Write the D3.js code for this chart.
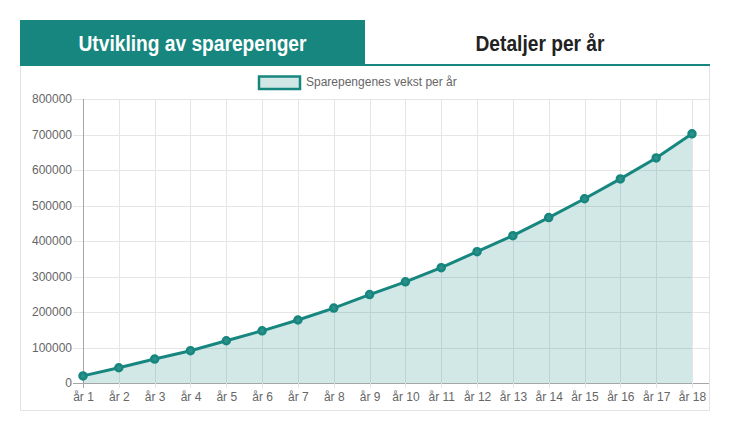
<!DOCTYPE html>
<html>
<head>
<meta charset="utf-8">
<script src="https://d3js.org/d3.v7.min.js"></script>
<style>
  body { margin: 0; background: #fff; }
  svg text { font-family: "Liberation Sans", Arial, sans-serif; }
</style>
</head>
<body>
<svg id="chart" width="729" height="426"></svg>
<script>
// data
var years = ["år 1","år 2","år 3","år 4","år 5","år 6","år 7","år 8","år 9","år 10",
             "år 11","år 12","år 13","år 14","år 15","år 16","år 17","år 18"];
var savings = [20000, 43000, 67500, 91000, 119000, 147000, 177500, 211000, 249000, 285000,
               325000, 370000, 415000, 466000, 519000, 575000, 634000, 702000];
var yTicks = [0, 100000, 200000, 300000, 400000, 500000, 600000, 700000, 800000];
var tabs = ["Utvikling av sparepenger", "Detaljer per år"];
var legendLabel = "Sparepengenes vekst per år";

var teal = "#17867f",
    fillCol = "rgba(23,138,135,0.2)",
    grid = "#e5e5e5",
    zero = "#a6a6a6";

var svg = d3.select("#chart");

// tabs
svg.append("rect").attr("x", 20).attr("y", 20).attr("width", 345).attr("height", 46).attr("fill", teal);
svg.append("rect").attr("x", 365).attr("y", 64).attr("width", 345).attr("height", 2).attr("fill", teal);
// condensed look: squeeze the bold text to the width seen in the picture
svg.append("text").attr("x", 192.5).attr("y", 51).attr("text-anchor", "middle")
  .attr("textLength", 228).attr("lengthAdjust", "spacingAndGlyphs")
  .style("font-weight", "bold").style("font-size", "22px").attr("fill", "#fff").text(tabs[0]);
svg.append("text").attr("x", 540).attr("y", 51).attr("text-anchor", "middle")
  .attr("textLength", 129).attr("lengthAdjust", "spacingAndGlyphs")
  .style("font-weight", "bold").style("font-size", "22px").attr("fill", "#222").text(tabs[1]);

// panel border
svg.append("path").attr("d", "M20.5,66V410.5H709.5V66").attr("fill", "none").attr("stroke", "#e3e3e3");

// legend
svg.append("rect").attr("x", 259).attr("y", 76.5).attr("width", 41).attr("height", 12.5)
  .attr("fill", "#d0e7e6").attr("stroke", teal).attr("stroke-width", 2.5);
svg.append("text").attr("x", 306).attr("y", 86).attr("fill", "#666").style("font-size", "12px").text(legendLabel);

// scales
var x = d3.scalePoint().domain(years).range([83, 692]);
var y = d3.scaleLinear().domain([0, 800000]).range([383, 99]);

// grid
var g = svg.append("g");
g.selectAll(".hg").data(yTicks).join("line")
  .attr("x1", 73).attr("x2", 709)
  .attr("y1", d => Math.round(y(d)) + 0.5).attr("y2", d => Math.round(y(d)) + 0.5)
  .attr("stroke", d => d === 0 ? zero : grid);
g.selectAll(".vg").data(years).join("line")
  .attr("x1", d => Math.round(x(d)) + 0.5).attr("x2", d => Math.round(x(d)) + 0.5)
  .attr("y1", 99).attr("y2", 388)
  .attr("stroke", (d, i) => i === 0 ? zero : grid);

// axes labels via d3 axes
var yAxis = svg.append("g").attr("transform", "translate(73,0)")
  .call(d3.axisLeft(y).tickValues(yTicks).tickSize(0).tickPadding(1).tickFormat(d3.format("d")));
yAxis.select(".domain").remove();
yAxis.selectAll("text").attr("fill", "#666").style("font-size", "12px");

var xAxis = svg.append("g").attr("transform", "translate(0,389)")
  .call(d3.axisBottom(x).tickSize(0).tickPadding(3));
xAxis.select(".domain").remove();
xAxis.selectAll("text").attr("fill", "#666").style("font-size", "12px");

// area + line
var pts = years.map((d, i) => ({k: d, v: savings[i]}));
svg.append("path").datum(pts)
  .attr("d", d3.area().x(d => x(d.k)).y0(y(0)).y1(d => y(d.v)))
  .attr("fill", fillCol);
svg.append("path").datum(pts)
  .attr("d", d3.line().x(d => x(d.k)).y(d => y(d.v)))
  .attr("fill", "none").attr("stroke", teal).attr("stroke-width", 3);
svg.selectAll(".pt").data(pts).join("circle")
  .attr("cx", d => x(d.k)).attr("cy", d => y(d.v)).attr("r", 3.5)
  .attr("fill", "#2b9089").attr("stroke", teal).attr("stroke-width", 2.5);
</script>
</body>
</html>
